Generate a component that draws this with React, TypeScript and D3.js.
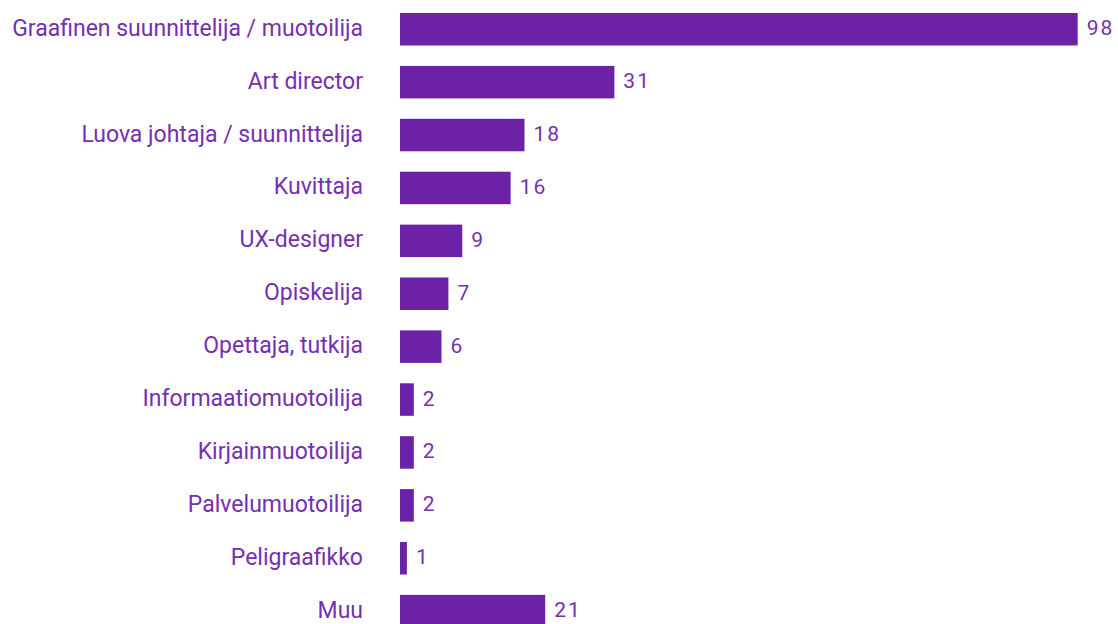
import React from "react";
import * as d3 from "d3";

const categories = [
  "Graafinen suunnittelija / muotoilija",
  "Art director",
  "Luova johtaja / suunnittelija",
  "Kuvittaja",
  "UX-designer",
  "Opiskelija",
  "Opettaja, tutkija",
  "Informaatiomuotoilija",
  "Kirjainmuotoilija",
  "Palvelumuotoilija",
  "Peligraafikko",
  "Muu",
];
const values = [98, 31, 18, 16, 9, 7, 6, 2, 2, 2, 1, 21];

const W = 1118;
const H = 624;
const BAR_COLOR = "#6C22A6";
const TEXT_COLOR = "#7430B0";

export default function App() {
  const x = d3.scaleLinear().domain([0, 98]).range([400, 1077.7]);
  const step = 52.9;
  const top0 = 13;
  const bh = 32.5;
  const y = d3
    .scaleBand<string>()
    .domain(categories)
    .range([top0, top0 + step * categories.length]);
  return (
    <svg
      width={W}
      height={H}
      style={{ position: "absolute", left: 0, top: 0, background: "#fff" }}
      fontFamily="Roboto, 'Noto Sans', sans-serif"
    >
      {categories.map((c, i) => {
        const yt = y(c) as number;
        const yc = yt + bh / 2;
        return (
          <g key={c}>
            <rect x={x(0)} y={yt} width={x(values[i]) - x(0)} height={bh} fill={BAR_COLOR} />
            <text
              x={363}
              y={yc - 1}
              textAnchor="end"
              dominantBaseline="central"
              fontSize={23}
              fill={TEXT_COLOR}
            >
              {c}
            </text>
            <text
              x={x(values[i]) + 9}
              y={yc - 1}
              dominantBaseline="central"
              fontSize={21}
              letterSpacing={2}
              fill={TEXT_COLOR}
            >
              {values[i]}
            </text>
          </g>
        );
      })}
    </svg>
  );
}
